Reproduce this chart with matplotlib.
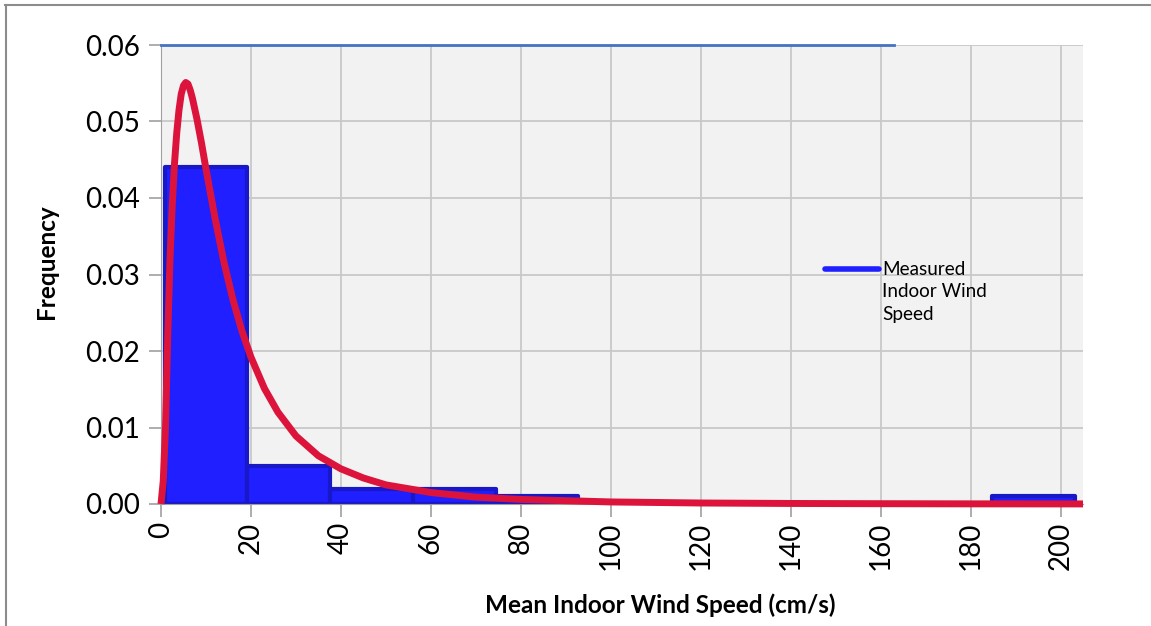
import numpy as np
import matplotlib
matplotlib.use('agg')
import matplotlib.pyplot as plt
from matplotlib.lines import Line2D

# measured histogram (bin centres, cm/s) and frequencies
bin_centres = [10.0, 28.4, 46.8, 65.2, 83.6, 102.0, 120.4, 138.8, 157.2, 175.6, 194.0]
bin_width = 18.4
frequencies = [0.044, 0.005, 0.002, 0.002, 0.001, 0.0, 0.0, 0.0, 0.0, 0.0, 0.001]

# fitted distribution curve
fit_x = [0, 0.5, 1, 1.5, 2, 2.5, 3, 3.5, 4, 4.5, 5, 5.5, 6, 6.5, 7, 8, 9, 10, 12, 14,
         16, 18, 20, 23, 26, 30, 35, 40, 45, 50, 60, 70, 80, 100, 120, 140, 160, 180, 205]
fit_y = [0.0, 0.003, 0.010, 0.022, 0.032, 0.039, 0.0445, 0.0485, 0.0515, 0.0536, 0.0547,
         0.0551, 0.0549, 0.0541, 0.053, 0.0503, 0.0472, 0.0438, 0.0374, 0.0316, 0.0267,
         0.0226, 0.0192, 0.0151, 0.0120, 0.0089, 0.0063, 0.0046, 0.0034, 0.0025, 0.0015,
         0.0009, 0.0006, 0.00027, 0.00013, 0.00007, 0.00004, 0.00002, 0.00001]

# horizontal reference series along the top
top_x = [0, 163]
top_y = [0.06, 0.06]

font = ['Lato', 'DejaVu Sans']
plt.rcParams['font.family'] = font

fig = plt.figure(figsize=(11.51, 6.26), dpi=100)
ax = fig.add_axes([161 / 1151, 1 - 504 / 626, (1083 - 161) / 1151, (504 - 45) / 626])
ax.set_facecolor('#f2f2f2')

ax.bar(bin_centres, frequencies, width=bin_width, color='#1f1fff',
       edgecolor='#1818c8', linewidth=3, joinstyle='round', zorder=2)
ax.plot(fit_x, fit_y, color='#dc143c', linewidth=5, solid_capstyle='butt',
        solid_joinstyle='round', zorder=3, clip_on=False)
ax.plot(top_x, top_y, color='#4472c4', linewidth=2, zorder=3, clip_on=False)

ax.set_xlim(0, 205)
ax.set_ylim(0, 0.06)
ax.set_xticks(np.arange(0, 201, 20))
ax.set_yticks(np.arange(0, 0.061, 0.01))
ax.set_yticklabels([f'{v:.2f}' for v in np.arange(0, 0.061, 0.01)])
ax.grid(True, color='#c8c8c8', linewidth=1.3, zorder=0)
ax.set_axisbelow(True)
for s in ['top', 'right']:
    ax.spines[s].set_visible(False)
ax.spines['left'].set_color('#a0a0a0')
ax.spines['bottom'].set_color('#a0a0a0')
ax.tick_params(axis='both', colors='#a0a0a0', labelcolor='black', labelsize=20, length=9, width=1.2)
ax.tick_params(axis='x', labelrotation=90, pad=4)
ax.tick_params(axis='y', pad=6)

ax.set_xlabel('Mean Indoor Wind Speed (cm/s)', fontsize=17.5, fontweight='bold')
ax.set_ylabel('Frequency', fontsize=17.5, fontweight='bold')
ax.xaxis.set_label_coords(0.541, -0.194)
ax.yaxis.set_label_coords(-0.112, 0.527)

# legend
ax.add_line(Line2D([0.720, 0.779], [0.512, 0.512], transform=ax.transAxes,
                   color='#1f1fff', linewidth=4, solid_capstyle='round', zorder=4))
ax.text(0.782, 0.530, 'Measured\nIndoor Wind\nSpeed', transform=ax.transAxes,
        fontsize=13.6, va='top', ha='left', linespacing=1.4, zorder=4)

# outer border (top and left)
fig.add_artist(Line2D([5 / 1151, 1], [1 - 5 / 626, 1 - 5 / 626], transform=fig.transFigure,
                      color='#8c8c8c', linewidth=1.5))
fig.add_artist(Line2D([6 / 1151, 6 / 1151], [0, 1 - 5 / 626], transform=fig.transFigure,
                      color='#8c8c8c', linewidth=1.5))

fig.savefig('out.png', dpi=100)
